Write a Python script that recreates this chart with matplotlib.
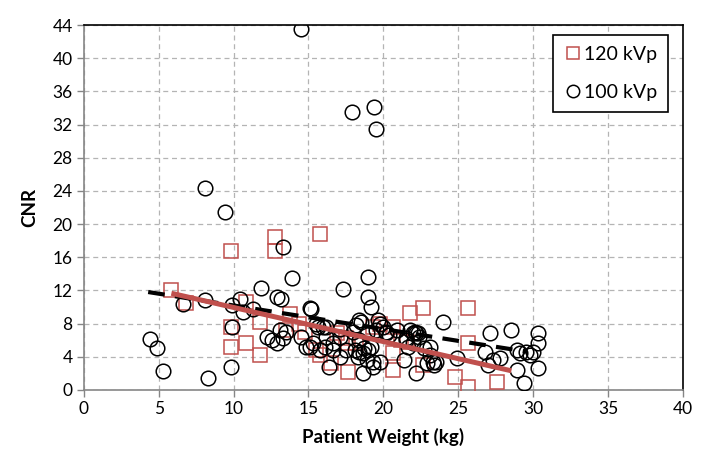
import matplotlib.pyplot as plt

plt.rcParams['font.family'] = ['Lato', 'DejaVu Sans']

# 120 kVp (squares)
w120 = [5.85, 6.8, 9.8, 9.8, 9.8, 10.8, 10.85, 11.75, 11.75, 12.8, 12.8, 13.75,
        13.5, 14.4, 14.76, 15.8, 15.76, 16.5, 17.65, 16.9, 17.5, 17.65, 15.5,
        19.3, 19.77, 20.65, 21.2, 20.65, 20.65, 21.8, 22.66, 22.66, 25.67, 25.67,
        24.77, 25.67, 27.6, 18.2, 21.6]
cnr120 = [12.05, 10.5, 16.8, 7.6, 5.2, 10.6, 5.6, 8.2, 4.2, 18.4, 16.8, 9.1,
          7.2, 8.0, 7.0, 18.8, 4.2, 3.2, 2.2, 6.8, 6.2, 5.6, 4.8,
          7.6, 8.0, 7.6, 6.0, 4.4, 2.4, 9.25, 9.85, 3.0, 9.85, 5.6,
          1.6, 0.4, 1.0, 5.6, 5.8]

# 100 kVp (circles)
w100 = [14.5, 17.9, 19.4, 19.5, 8.1, 9.4, 13.3, 13.9, 11.8, 19.0, 17.3, 19.0, 19.2,
        4.4, 4.9, 5.3, 8.3, 9.8, 6.6, 8.1, 9.9, 10.4, 10.6, 9.9, 11.3, 12.9, 13.2,
        15.1, 15.2, 12.2, 12.6, 12.9, 13.3, 13.5, 13.1, 14.5, 15.1, 15.5, 16.2,
        16.1, 16.2, 16.65, 17.1, 16.4, 18.5, 18.0, 18.9, 18.4, 19.2, 18.1, 18.65,
        18.9, 19.3, 19.8, 18.65, 18.3, 18.7, 18.4, 19.0, 19.8, 20.2, 19.5, 20.0,
        20.2, 21.5, 21.8, 22.2, 22.0, 22.3, 21.5, 22.0, 22.7, 23.1, 23.3, 23.4,
        22.9, 22.2, 21.4, 24.0, 24.9, 23.1, 23.55, 26.8, 27.1, 28.5, 27.3, 27.8,
        27.0, 28.9, 29.1, 29.55, 30.0, 29.8, 28.9, 29.4, 30.3, 30.3, 30.3,
        18.4, 18.2, 19.65, 20.9, 20.4, 22.1, 22.4, 21.66, 15.3, 14.87, 16.65,
        15.76, 16.0, 15.65, 17.1, 17.5, 17.1, 19.3]
cnr100 = [43.5, 33.5, 34.1, 31.4, 24.3, 21.4, 17.2, 13.5, 12.3, 13.6, 12.2, 11.25, 10.0,
          6.1, 5.1, 2.3, 1.4, 2.7, 10.3, 10.85, 10.25, 10.9, 9.4, 7.6, 9.7, 11.2, 10.9,
          9.9, 9.7, 6.4, 6.0, 5.6, 6.2, 7.0, 7.2, 6.4, 5.2, 8.0, 7.6,
          5.2, 6.4, 5.6, 7.4, 2.8, 8.2, 7.0, 6.8, 6.0, 5.2, 4.8, 4.4,
          3.6, 3.4, 3.4, 2.0, 4.0, 5.0, 4.6, 4.8, 8.0, 6.8, 7.2, 7.6,
          7.0, 6.2, 7.2, 6.8, 6.8, 6.8, 6.0, 5.6, 5.0, 4.2, 3.4, 3.0,
          3.2, 2.0, 3.6, 8.2, 3.8, 5.2, 3.4, 4.6, 6.8, 7.2, 3.6, 3.8,
          3.0, 4.8, 4.4, 4.6, 4.6, 4.2, 2.4, 0.8, 6.8, 5.6, 2.6,
          8.4, 7.8, 8.4, 7.2, 6.6, 7.0, 6.4, 5.2, 5.6, 5.2, 4.8,
          4.8, 7.6, 7.6, 6.4, 4.8, 4.0, 2.8]

# trend lines (end points)
fit120_x = [5.85, 28.55]
fit120_y = [11.65, 2.3]
fit100_x = [4.3, 29.6]
fit100_y = [11.8, 4.6]

red = '#c0504d'

fig = plt.figure(figsize=(7.04, 4.72), dpi=100)
ax = fig.add_axes([0.119, 0.174, 0.851, 0.773])

ax.plot(w120, cnr120, 's', ms=10.5, mfc='none', mec=red, mew=1.1, label='120 kVp', zorder=3)
ax.plot(w100, cnr100, 'o', ms=10.5, mfc='none', mec='black', mew=1.1, label='100 kVp', zorder=3)
ax.plot(fit100_x, fit100_y, color='black', lw=3, dashes=(4, 2.5), zorder=4)
ax.plot(fit120_x, fit120_y, color=red, lw=3.6, zorder=5, solid_capstyle='butt')

ax.set_xlim(0, 40)
ax.set_ylim(0, 44)
ax.set_xticks(range(0, 41, 5))
ax.set_yticks(range(0, 45, 4))
ax.grid(True, color='#b4b4b4', linestyle=(0, (4, 3)), lw=0.9)
ax.set_axisbelow(True)

for s in ['left', 'bottom']:
    ax.spines[s].set_color('#868686')
    ax.spines[s].set_linewidth(1.2)
for s in ['top', 'right']:
    ax.spines[s].set_color('black')
    ax.spines[s].set_linewidth(1.2)
ax.tick_params(direction='out', length=5, color='#868686', width=1.0, labelsize=12.5, pad=3)

ax.set_xlabel('Patient Weight (kg)', fontsize=13.5, fontweight='bold', labelpad=8)
ax.set_ylabel('CNR', fontsize=13.5, fontweight='bold', labelpad=10)

leg = ax.legend(loc='upper right', bbox_to_anchor=(0.975, 0.973), borderaxespad=0,
                fontsize=14, fancybox=False, framealpha=1, edgecolor='black',
                labelspacing=1.1, handletextpad=0.05, handlelength=1.0,
                borderpad=0.55, markerscale=0.85)
leg.get_frame().set_linewidth(1.2)

plt.savefig('out.png', dpi=100)
